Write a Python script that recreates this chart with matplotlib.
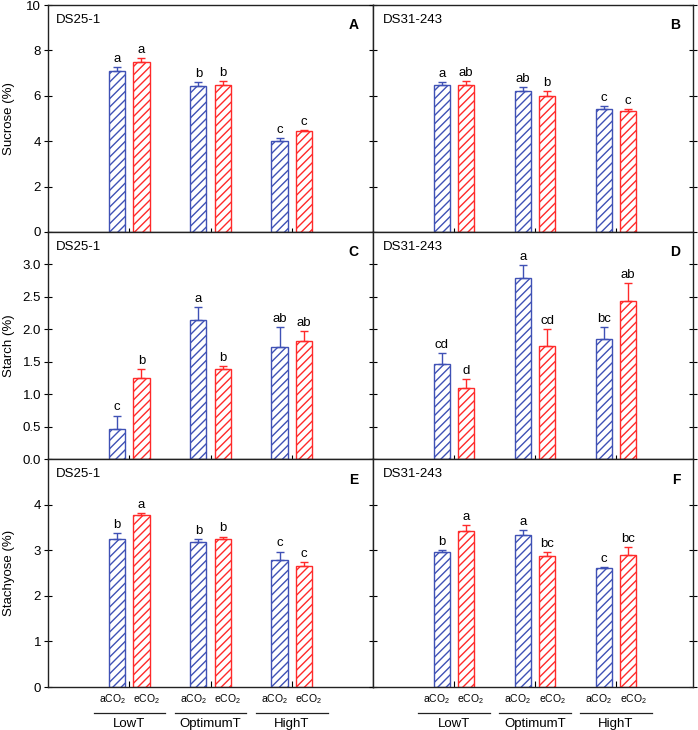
import matplotlib
matplotlib.use("Agg")
import matplotlib.pyplot as plt
import numpy as np

plt.rcParams['font.family'] = ['Liberation Sans', 'DejaVu Sans']
plt.rcParams['mathtext.default'] = 'regular'
plt.rcParams['hatch.linewidth'] = 1.0

groups = ["LowT", "OptimumT", "HighT"]
treatments = ["aCO$_2$", "eCO$_2$"]
genotypes = ["DS25-1", "DS31-243"]

# Sucrose (%)
suc_a_25 = [7.10, 6.44, 4.00]; suc_a_25_err = [0.18, 0.15, 0.15]
suc_e_25 = [7.47, 6.49, 4.43]; suc_e_25_err = [0.18, 0.18, 0.05]
suc_a_31 = [6.48, 6.21, 5.43]; suc_a_31_err = [0.13, 0.18, 0.12]
suc_e_31 = [6.46, 5.99, 5.32]; suc_e_31_err = [0.17, 0.20, 0.11]
suc_let_a_25 = ["a", "b", "c"]; suc_let_e_25 = ["a", "b", "c"]
suc_let_a_31 = ["a", "ab", "c"]; suc_let_e_31 = ["ab", "b", "c"]

# Starch (%)
sta_a_25 = [0.46, 2.15, 1.72]; sta_a_25_err = [0.21, 0.19, 0.32]
sta_e_25 = [1.25, 1.38, 1.82]; sta_e_25_err = [0.13, 0.05, 0.15]
sta_a_31 = [1.47, 2.79, 1.85]; sta_a_31_err = [0.17, 0.20, 0.19]
sta_e_31 = [1.10, 1.74, 2.43]; sta_e_31_err = [0.13, 0.27, 0.29]
sta_let_a_25 = ["c", "a", "ab"]; sta_let_e_25 = ["b", "b", "ab"]
sta_let_a_31 = ["cd", "a", "bc"]; sta_let_e_31 = ["d", "cd", "ab"]

# Stachyose (%)
sty_a_25 = [3.25, 3.19, 2.79]; sty_a_25_err = [0.12, 0.06, 0.18]
sty_e_25 = [3.78, 3.25, 2.65]; sty_e_25_err = [0.03, 0.05, 0.10]
sty_a_31 = [2.96, 3.34, 2.62]; sty_a_31_err = [0.04, 0.11, 0.02]
sty_e_31 = [3.43, 2.88, 2.90]; sty_e_31_err = [0.12, 0.08, 0.16]
sty_let_a_25 = ["b", "b", "c"]; sty_let_e_25 = ["a", "b", "c"]
sty_let_a_31 = ["b", "a", "c"]; sty_let_e_31 = ["a", "bc", "bc"]

ylabels = ["Sucrose (%)", "Starch (%)", "Stachyose (%)"]
ylims = [(0, 10), (0, 3.5), (0, 5)]
yticks = [np.arange(0, 10.1, 2), np.arange(0, 3.01, 0.5), np.arange(0, 4.1, 1)]
yfmt = ["{:.0f}", "{:.1f}", "{:.0f}"]
panel_letters = [["A", "B"], ["C", "D"], ["E", "F"]]

data = [
    [(suc_a_25, suc_a_25_err, suc_let_a_25, suc_e_25, suc_e_25_err, suc_let_e_25),
     (suc_a_31, suc_a_31_err, suc_let_a_31, suc_e_31, suc_e_31_err, suc_let_e_31)],
    [(sta_a_25, sta_a_25_err, sta_let_a_25, sta_e_25, sta_e_25_err, sta_let_e_25),
     (sta_a_31, sta_a_31_err, sta_let_a_31, sta_e_31, sta_e_31_err, sta_let_e_31)],
    [(sty_a_25, sty_a_25_err, sty_let_a_25, sty_e_25, sty_e_25_err, sty_let_e_25),
     (sty_a_31, sty_a_31_err, sty_let_a_31, sty_e_31, sty_e_31_err, sty_let_e_31)],
]

blue = "#3f51b5"
red = "#ff2a2a"

W, H = 698, 730
fig = plt.figure(figsize=(W / 100, H / 100), dpi=100)

col_px = [(48, 373), (373, 693)]
row_px = [(5, 232), (232, 459), (459, 687)]

x = np.arange(1, 4)
off = 0.15
bw = 0.2
FS = 9.5

for r in range(3):
    for c in range(2):
        x0, x1 = col_px[c]
        y0, y1 = row_px[r]
        ax = fig.add_axes([x0 / W, 1 - y1 / H, (x1 - x0) / W, (y1 - y0) / H])
        a, ae, al, e, ee, el = data[r][c]
        for vals, errs, lets, col, dx in [(a, ae, al, blue, -off), (e, ee, el, red, off)]:
            ax.bar(x + dx, vals, width=bw, facecolor="white", edgecolor=col,
                   hatch="////", linewidth=1.0, zorder=2)
            ax.errorbar(x + dx, vals, yerr=[np.zeros(3), errs], fmt="none",
                        ecolor=col, elinewidth=1.0, capsize=2.8, capthick=1.0, zorder=3)
            for xi, v, er, lt in zip(x + dx, vals, errs, lets):
                ax.annotate(lt, (xi, v + er), xytext=(0, 1.5), textcoords="offset points",
                            ha="center", va="bottom", fontsize=FS)
        ax.set_xlim(0, 4 if c == 0 else 3.95)
        ax.set_ylim(*ylims[r])
        ax.set_yticks(yticks[r])
        ax.set_xticks(x)
        ax.set_xticklabels([])
        for sp in ax.spines.values():
            sp.set_linewidth(1.0)
            sp.set_color("#222222")
        if c == 0:
            ax.set_yticklabels([yfmt[r].format(v) for v in yticks[r]], fontsize=FS)
            ax.set_ylabel(ylabels[r], fontsize=FS)
            ax.yaxis.set_label_coords(-0.10, 0.5)
            ax.tick_params(axis="y", direction="inout", length=6, left=True, right=False, pad=2)
        else:
            ax.set_yticklabels([])
            ax.tick_params(axis="y", direction="inout", length=6, left=True, right=True)
        if r < 2:
            ax.tick_params(axis="x", direction="inout", length=6, bottom=True, top=False)
        else:
            ax.tick_params(axis="x", direction="in", length=4, bottom=True, top=False)
        ax.text(0.025 if c == 0 else 0.03, 0.96, genotypes[c], transform=ax.transAxes,
                ha="left", va="top", fontsize=FS)
        ax.text(0.955 if c == 0 else 0.96, 0.91, panel_letters[r][c], transform=ax.transAxes,
                ha="right", va="center", fontsize=10, fontweight="bold")
        if r == 2:
            trans = ax.get_xaxis_transform()
            for gi, g in enumerate(groups):
                for dx, t in [(-0.21, treatments[0]), (0.21, treatments[1])]:
                    ax.text(x[gi] + dx, -0.055, t, transform=trans, ha="center",
                            va="center", fontsize=7.5, clip_on=False)
                ax.plot([x[gi] - 0.44, x[gi] + 0.44], [-0.113, -0.113], transform=trans,
                        color="#222222", linewidth=0.9, clip_on=False)
                ax.text(x[gi], -0.163, g, transform=trans, ha="center", va="center",
                        fontsize=FS, clip_on=False)

fig.savefig("out.png", dpi=100)
